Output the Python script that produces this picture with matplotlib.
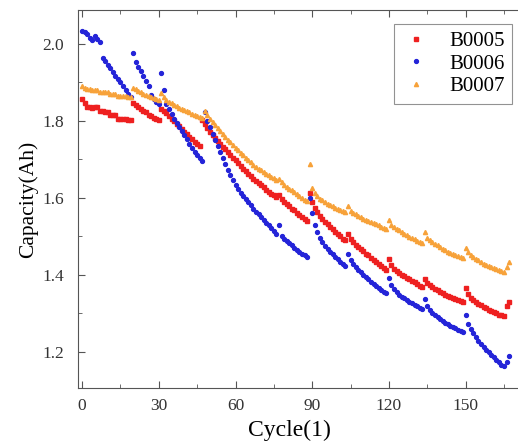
import numpy as np
import matplotlib.pyplot as plt
from matplotlib.ticker import MultipleLocator

plt.rcParams['font.family'] = ['Liberation Serif', 'DejaVu Serif']

b0005 = [1.856, 1.846, 1.835, 1.835, 1.834, 1.835, 1.835, 1.825, 1.825, 1.824,
         1.824, 1.814, 1.814, 1.814, 1.804, 1.804, 1.804, 1.804, 1.803, 1.803,
         1.847, 1.842, 1.836, 1.832, 1.826, 1.822, 1.816, 1.812, 1.807, 1.804, 1.803,
         1.832, 1.826, 1.820, 1.812, 1.806, 1.800, 1.792, 1.786, 1.780, 1.772,
         1.766, 1.758, 1.752, 1.746, 1.740, 1.734,
         1.803, 1.792, 1.782, 1.772, 1.764, 1.756, 1.748, 1.741, 1.733, 1.726,
         1.718, 1.711, 1.704, 1.697, 1.690, 1.683, 1.676, 1.669, 1.662, 1.656,
         1.650, 1.644, 1.638, 1.632, 1.627, 1.621, 1.616, 1.611, 1.606, 1.601,
         1.608, 1.597, 1.590, 1.584, 1.578, 1.572, 1.567, 1.561, 1.556, 1.550,
         1.545, 1.540,
         1.612, 1.590, 1.573, 1.562, 1.553, 1.545, 1.538, 1.531, 1.524, 1.518,
         1.512, 1.506, 1.500, 1.494, 1.489,
         1.505, 1.492, 1.484, 1.478, 1.472, 1.466, 1.461, 1.455, 1.450, 1.444,
         1.439, 1.434, 1.428, 1.423, 1.417, 1.411,
         1.440, 1.425, 1.416, 1.410, 1.405, 1.400, 1.396, 1.392, 1.388, 1.384,
         1.380, 1.375, 1.371, 1.367,
         1.390, 1.378, 1.372, 1.367, 1.363, 1.359, 1.355, 1.351, 1.348, 1.345,
         1.342, 1.339, 1.336, 1.333, 1.331, 1.328,
         1.366, 1.350, 1.340, 1.334, 1.329, 1.324, 1.320, 1.316, 1.312, 1.309,
         1.306, 1.302, 1.299, 1.296, 1.294, 1.293, 1.318, 1.328]

b0006 = [2.035, 2.030, 2.025, 2.015, 2.010, 2.020, 2.012, 2.005,
         1.964, 1.955, 1.946, 1.937, 1.928, 1.918, 1.909, 1.900, 1.890, 1.881,
         1.871, 1.862,
         1.977, 1.953, 1.940, 1.930, 1.918, 1.905, 1.890, 1.866,
         1.858, 1.850, 1.843,
         1.925, 1.880, 1.845, 1.830, 1.818, 1.805, 1.795, 1.785, 1.774, 1.763,
         1.752, 1.741, 1.730, 1.720, 1.711, 1.703, 1.696,
         1.822, 1.800, 1.783, 1.766, 1.750, 1.734, 1.718, 1.703, 1.688, 1.673,
         1.659, 1.645, 1.632,
         1.622, 1.613, 1.604, 1.596, 1.588, 1.580, 1.572, 1.564, 1.557, 1.549,
         1.542, 1.535, 1.528, 1.521, 1.514, 1.507,
         1.530,
         1.500, 1.494, 1.488, 1.482, 1.476, 1.470, 1.465, 1.460, 1.455, 1.450, 1.445,
         1.600, 1.560, 1.530, 1.510, 1.495, 1.484, 1.475, 1.467, 1.460, 1.453,
         1.446, 1.440, 1.434, 1.428, 1.423,
         1.455, 1.438, 1.428, 1.420, 1.413, 1.406, 1.400, 1.394, 1.388, 1.382,
         1.376, 1.371, 1.366, 1.361, 1.356, 1.352,
         1.392, 1.372, 1.362, 1.354, 1.348, 1.343, 1.338, 1.334, 1.330, 1.326,
         1.322, 1.318, 1.314, 1.310,
         1.336, 1.318, 1.308, 1.300, 1.294, 1.289, 1.284, 1.279, 1.275, 1.271,
         1.267, 1.263, 1.260, 1.257, 1.254, 1.252,
         1.296, 1.272, 1.258, 1.247, 1.237, 1.228, 1.220, 1.212, 1.205, 1.198,
         1.191, 1.185, 1.179, 1.173, 1.166, 1.162, 1.172, 1.188]

b0007 = [1.891, 1.886, 1.882, 1.882, 1.881, 1.881, 1.880, 1.875, 1.875, 1.874,
         1.874, 1.870, 1.869, 1.869, 1.865, 1.865, 1.864, 1.864, 1.863, 1.862,
         1.886, 1.882, 1.878, 1.875, 1.871, 1.868, 1.865, 1.862, 1.859, 1.857, 1.855,
         1.872, 1.862, 1.855, 1.850, 1.846, 1.842, 1.838, 1.834, 1.831, 1.828,
         1.825, 1.822, 1.819, 1.816, 1.813, 1.811, 1.808,
         1.825, 1.815, 1.806, 1.797, 1.789, 1.781, 1.773, 1.765, 1.758, 1.751,
         1.744, 1.737, 1.730, 1.723, 1.716, 1.710, 1.704, 1.698, 1.692, 1.686, 1.680,
         1.676, 1.672, 1.667, 1.663, 1.659, 1.655, 1.651, 1.647, 1.650, 1.640,
         1.634, 1.629, 1.624, 1.619, 1.614, 1.609, 1.604, 1.599, 1.595, 1.591,
         1.688,
         1.626, 1.612, 1.604, 1.598, 1.593, 1.589, 1.585, 1.581, 1.578, 1.574,
         1.571, 1.568, 1.565, 1.562,
         1.578, 1.566, 1.561, 1.557, 1.553, 1.549, 1.546, 1.543, 1.540, 1.537,
         1.534, 1.531, 1.528, 1.525, 1.522, 1.519,
         1.543, 1.530, 1.524, 1.519, 1.515, 1.511, 1.507, 1.503, 1.499, 1.495,
         1.492, 1.488, 1.485, 1.482,
         1.510, 1.496, 1.490, 1.485, 1.480, 1.476, 1.472, 1.468, 1.464, 1.460,
         1.457, 1.454, 1.451, 1.448, 1.446, 1.444,
         1.470, 1.458, 1.451, 1.446, 1.441, 1.437, 1.433, 1.429, 1.426, 1.423,
         1.420, 1.417, 1.414, 1.411, 1.409, 1.407, 1.420, 1.434]

cycles = np.arange(len(b0005))

fig = plt.figure(figsize=(5.18, 4.41), dpi=100)
ax = fig.add_axes([0.1506, 0.12, 0.852, 0.857])

ax.plot(cycles, b0005, 's', color='#ee2020', markersize=2.7, label='B0005')
ax.plot(cycles, b0006, 'o', color='#2424d8', markersize=2.8, label='B0006')
ax.plot(cycles, b0007, '^', color='#f7a23a', markersize=3.0, label='B0007')

ax.set_xlim(-1.6, 171)
ax.set_ylim(1.105, 2.088)
ax.xaxis.set_major_locator(MultipleLocator(30))
ax.xaxis.set_minor_locator(MultipleLocator(15))
ax.yaxis.set_major_locator(MultipleLocator(0.2))
ax.yaxis.set_minor_locator(MultipleLocator(0.1))
ax.tick_params(which='both', direction='in', top=True, right=False,
               labelsize=12.5, labelcolor='#333333', color='#555555')
ax.tick_params(which='major', length=5)
ax.tick_params(which='minor', length=3)
ax.tick_params(axis='y', which='major', pad=10)
ax.tick_params(axis='x', which='major', pad=7)
for s in ax.spines.values():
    s.set_color('#555555')

ax.set_xlabel('Cycle(1)', fontsize=17, labelpad=0)
ax.xaxis.set_label_coords(0.48, -0.085)
ax.set_ylabel('Capacity(Ah)', fontsize=15.5, labelpad=3)

leg = ax.legend(loc='upper right', fontsize=15, fancybox=False, edgecolor='#777777',
                handlelength=1.4, handletextpad=0.9, borderpad=0.35,
                labelspacing=0.15, borderaxespad=0,
                bbox_to_anchor=(0.983, 0.963))
leg.get_frame().set_linewidth(0.8)

fig.savefig('out.png', dpi=100)
